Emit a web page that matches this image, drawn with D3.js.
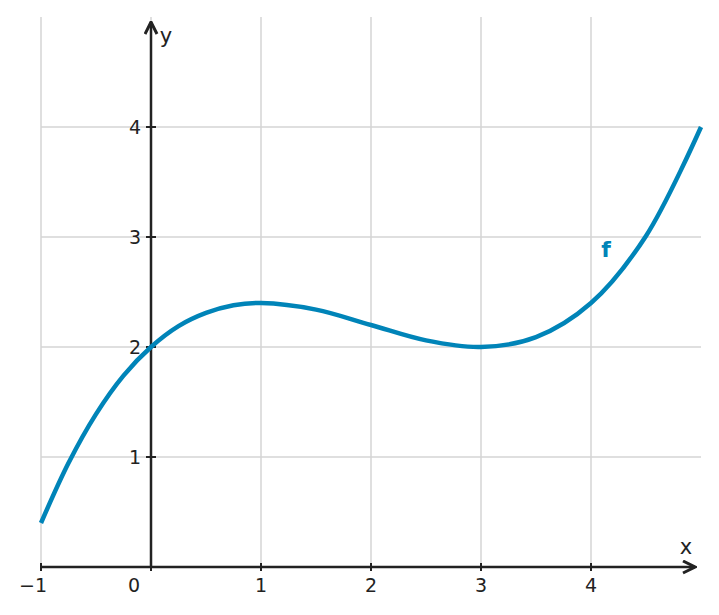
<!DOCTYPE html>
<html><head><meta charset="utf-8">
<script src="https://cdn.jsdelivr.net/npm/d3@7"></script>
<style>body{margin:0;background:#fff}text{font-family:"DejaVu Sans",sans-serif}</style>
</head><body><svg id="chart" width="719" height="615"></svg>
<script>
const xTicks = [-1, 0, 1, 2, 3, 4];
const yTicks = [1, 2, 3, 4];
const curveX = [-1, -0.75, -0.5, -0.25, 0, 0.25, 0.5, 0.75, 1, 1.5, 2, 2.5, 3, 3.5, 4, 4.5, 5];
const curveY = [0.4, 0.945, 1.39, 1.74, 2, 2.19, 2.31, 2.38, 2.4, 2.34, 2.2, 2.06, 2, 2.09, 2.4, 3.01, 4];

const svg = d3.select("#chart");
const x = d3.scaleLinear().domain([-1, 5]).range([41, 701]);
const y = d3.scaleLinear().domain([0, 5]).range([567, 17]);
const blue = "#0084b8", ink = "#222";

const grid = svg.append("g").attr("stroke", "#d4d4d4").attr("stroke-width", 1.5);
xTicks.forEach(t => grid.append("line").attr("x1", x(t)).attr("x2", x(t)).attr("y1", y(5)).attr("y2", y(0)));
yTicks.forEach(t => grid.append("line").attr("x1", x(-1)).attr("x2", x(5)).attr("y1", y(t)).attr("y2", y(t)));

svg.append("defs").append("marker").attr("id", "arr").attr("viewBox", "0 0 10 10")
  .attr("refX", 9).attr("refY", 5).attr("markerWidth", 6).attr("markerHeight", 6).attr("orient", "auto")
  .append("path").attr("d", "M1,1 L9,5 L1,9").attr("fill", "none").attr("stroke", ink).attr("stroke-width", 2);

svg.append("line").attr("x1", x(-1)).attr("x2", 695).attr("y1", y(0)).attr("y2", y(0))
  .attr("stroke", ink).attr("stroke-width", 2.5).attr("marker-end", "url(#arr)");
svg.append("line").attr("x1", x(0)).attr("x2", x(0)).attr("y1", y(0)).attr("y2", 22)
  .attr("stroke", ink).attr("stroke-width", 2.5).attr("marker-end", "url(#arr)");

const lab = svg.append("g").attr("fill", ink).attr("font-size", 19);
xTicks.forEach(t => {
  lab.append("text").attr("x", t === 0 ? x(0) - 17 : x(t) - (t < 0 ? 8 : 0)).attr("y", 592)
    .attr("text-anchor", "middle").text(t < 0 ? "\u2212" + Math.abs(t) : t);
  svg.append("line").attr("x1", x(t)).attr("x2", x(t)).attr("y1", y(0) - 4).attr("y2", y(0) + 4).attr("stroke", ink).attr("stroke-width", 2);
});
yTicks.forEach(t => {
  lab.append("text").attr("x", 141).attr("y", y(t) + 7).attr("text-anchor", "end").text(t);
  svg.append("line").attr("x1", x(0) - 5).attr("x2", x(0) + 5).attr("y1", y(t)).attr("y2", y(t)).attr("stroke", ink).attr("stroke-width", 2);
});
lab.append("text").attr("x", 686).attr("y", 554).attr("text-anchor", "middle").attr("font-size", 21).text("x");
lab.append("text").attr("x", 166).attr("y", 43).attr("text-anchor", "middle").attr("font-size", 21).text("y");

const pts = curveX.map((v, i) => [v, curveY[i]]);
svg.append("path").attr("d", d3.line().x(d => x(d[0])).y(d => y(d[1])).curve(d3.curveCatmullRom)(pts))
  .attr("fill", "none").attr("stroke", blue).attr("stroke-width", 4.5);
svg.append("text").attr("x", 606).attr("y", 257).attr("text-anchor", "middle").attr("font-size", 22)
  .attr("font-weight", "bold").attr("fill", blue).text("f");
</script></body></html>
